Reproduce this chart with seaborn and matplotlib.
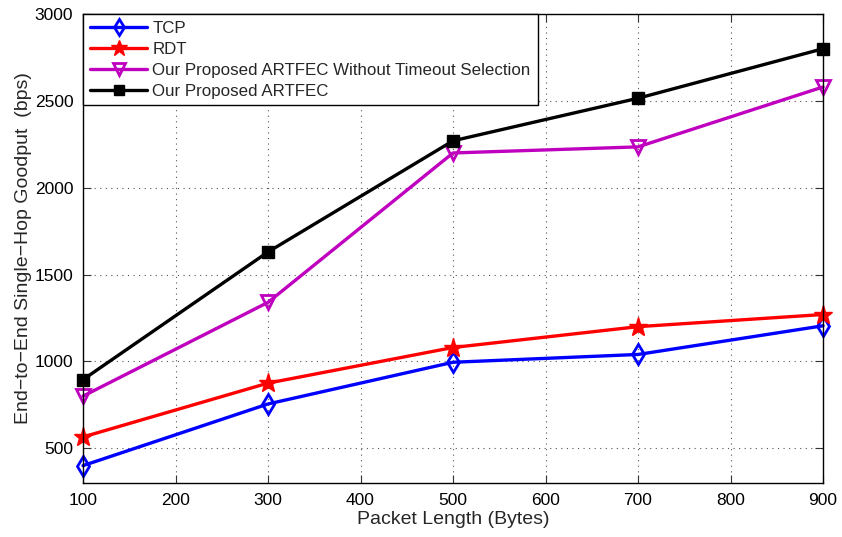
import matplotlib
matplotlib.use("Agg")
import matplotlib.pyplot as plt
import seaborn as sns
import pandas as pd

packet_length = [100, 300, 500, 700, 900]
tcp = [400, 755, 995, 1040, 1205]
rdt = [565, 875, 1080, 1200, 1270]
artfec_no_timeout = [800, 1340, 2200, 2235, 2580]
artfec = [895, 1630, 2270, 2515, 2800]

series_names = ["TCP", "RDT", "Our Proposed ARTFEC Without Timeout Selection", "Our Proposed ARTFEC"]
series_values = [tcp, rdt, artfec_no_timeout, artfec]

sns.set_style("white")
plt.rcParams["font.family"] = ["Liberation Sans", "DejaVu Sans"]

fig = plt.figure(figsize=(8.42, 5.37), dpi=100)
ax = fig.add_axes([83 / 842, 1 - 483 / 537, (823 - 83) / 842, (483 - 14) / 537])

styles = [
    dict(color="#0000ff", marker="d", markersize=10, markerfacecolor="none", markeredgewidth=2),
    dict(color="#ff0000", marker="*", markersize=14, markerfacecolor="#ff0000", markeredgewidth=1),
    dict(color="#bf00bf", marker="v", markersize=10, markerfacecolor="none", markeredgewidth=2),
    dict(color="#000000", marker="s", markersize=8, markerfacecolor="#000000", markeredgewidth=1),
]

for name, vals, st in zip(series_names, series_values, styles):
    df = pd.DataFrame({"x": packet_length, "y": vals})
    sns.lineplot(data=df, x="x", y="y", ax=ax, label=name, linewidth=2.4,
                 color=st["color"], marker=st["marker"], markersize=st["markersize"],
                 markerfacecolor=st["markerfacecolor"], markeredgecolor=st["color"],
                 markeredgewidth=st["markeredgewidth"], clip_on=False, zorder=3)

ax.set_xlim(100, 900)
ax.set_ylim(300, 3000)
ax.set_xticks(range(100, 1000, 100))
ax.set_yticks([500, 1000, 1500, 2000, 2500, 3000])
ax.grid(True, linestyle=(0, (1, 4)), color="#555555", linewidth=0.8)
ax.tick_params(direction="in", length=6, labelsize=12.5, top=True, right=True,
               bottom=True, left=True, colors="#333333", labelcolor="black", pad=7)
for sp in ax.spines.values():
    sp.set_color("black")
    sp.set_linewidth(1)
    sp.set_visible(True)
    sp.set_zorder(4)
ax.set_xlabel("Packet Length (Bytes)", fontsize=14, labelpad=2)
ax.set_ylabel("End\u2212to\u2212End Single\u2212Hop Goodput  (bps)", fontsize=14, labelpad=2)

leg = ax.legend(loc="upper left", fontsize=12.2, frameon=True, fancybox=False,
                borderaxespad=0, handlelength=3.4, labelspacing=0.35, borderpad=0.4,
                handletextpad=0.3, markerscale=0.85)
leg.get_frame().set_edgecolor("black")
leg.get_frame().set_linewidth(1)
leg.get_frame().set_alpha(1)
leg.set_zorder(5)

fig.savefig("out.png", dpi=100)
